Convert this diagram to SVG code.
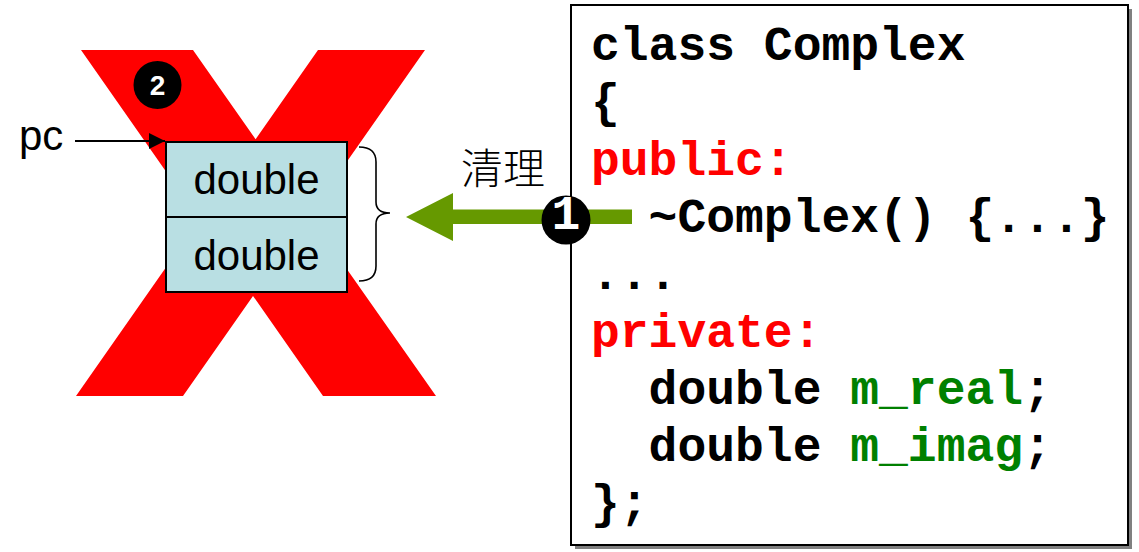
<svg xmlns="http://www.w3.org/2000/svg" width="1139" height="552" viewBox="0 0 1139 552">
<style>
.sans{font-family:"Liberation Sans",Arial,sans-serif;fill:#000}
.code{font-family:"Liberation Mono","Courier New",monospace;font-weight:bold;font-size:48px;fill:#000}
.kw{fill:#FF0000}
.id{fill:#008000}
.badge{fill:#000}
.badgeText{fill:#fff;font-weight:bold;text-anchor:middle}
</style>
<defs>
<marker id="ah" viewBox="0 0 16 16" refX="16" refY="8" markerWidth="16" markerHeight="16" markerUnits="userSpaceOnUse" orient="auto">
<path d="M0,0 L16,8 L0,16 Z" fill="#000"/>
</marker>
</defs>
<g id="cross">
<polygon points="81,50 193,50 255.6,139.2 318,50 425,50 309.2,215.5 436,396 323,396 253,295.9 183,396 76,396 199.5,219.4" fill="#FF0000"/>
</g>
<g id="badge2">
<circle cx="157.5" cy="85" r="24" class="badge"/>
<text x="157.5" y="95" class="sans badgeText" font-size="28">2</text>
</g>
<g id="memory">
<rect x="166" y="142" width="181" height="150" fill="#B9DFE3" stroke="#000" stroke-width="2"/>
<line x1="166" y1="217" x2="347" y2="217" stroke="#000" stroke-width="2"/>
<text x="256.5" y="194" class="sans" font-size="42" text-anchor="middle">double</text>
<text x="256.5" y="270" class="sans" font-size="42" text-anchor="middle">double</text>
</g>
<g id="pcLabel">
<text x="19" y="150" class="sans" font-size="42">pc</text>
</g>
<g id="brace">
<path d="M359,147 Q376,147 376,162 L376,202 Q376,213 390,213 Q376,213 376,224 L376,266 Q376,281 359,281" fill="none" stroke="#000" stroke-width="1.6"/>
</g>
<g id="cleanLabel">
<text x="461" y="184" font-family="'Noto Sans CJK SC','Noto Sans CJK JP',sans-serif" font-size="42" font-weight="300" fill="#000">清理</text>
</g>
<g id="codeBox">
<rect x="575" y="9" width="557" height="540" fill="#808080"/>
<rect x="571" y="5" width="557" height="540" fill="#fff" stroke="#000" stroke-width="2"/>
<text class="code" x="591" y="60">class Complex</text>
<text class="code" x="591" y="117.3">{</text>
<text class="code kw" x="591" y="174.6">public:</text>
<text class="code" x="591" y="231.9" xml:space="preserve">  ~Complex() {...}</text>
<text class="code" x="591" y="289.2">...</text>
<text class="code kw" x="591" y="346.5">private:</text>
<text class="code" x="591" y="403.8" xml:space="preserve">  double <tspan class="id">m_real</tspan>;</text>
<text class="code" x="591" y="461.1" xml:space="preserve">  double <tspan class="id">m_imag</tspan>;</text>
<text class="code" x="591" y="518.4">};</text>
</g>
<g id="connectors">
<line x1="75" y1="141" x2="165" y2="141" stroke="#000" stroke-width="2" marker-end="url(#ah)"/>
<polygon points="406,217 453,193 453,209.5 632,209.5 632,224 453,224 453,241" fill="#669900"/>
</g>
<g id="badge1">
<circle cx="566" cy="220" r="24.5" class="badge"/>
<text x="566" y="229" class="code badgeText" font-size="26">1</text>
</g>
</svg>
